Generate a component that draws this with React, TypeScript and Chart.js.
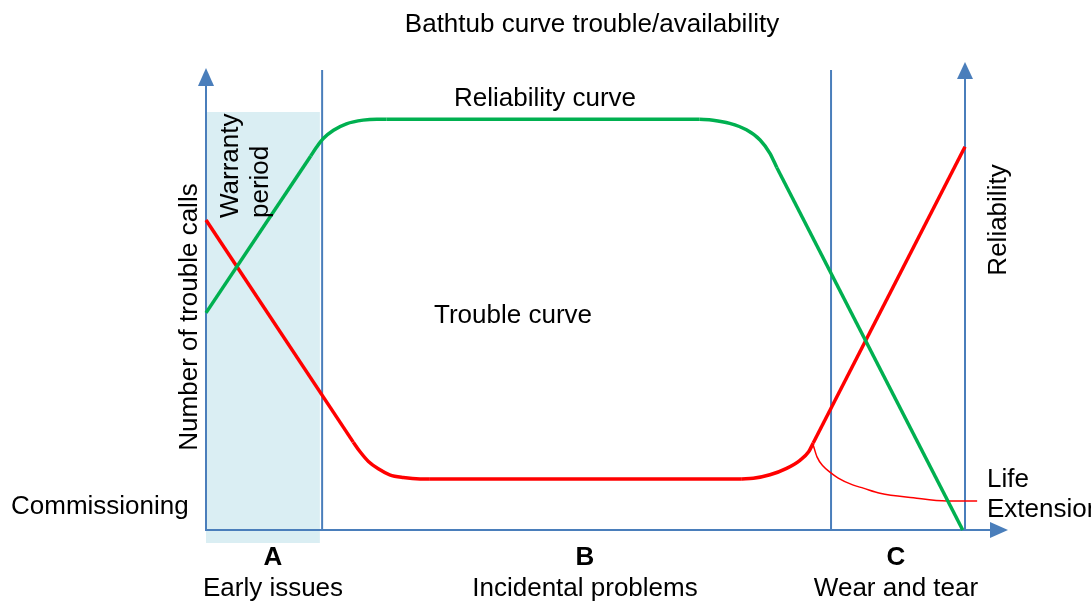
import React, { useEffect, useRef } from "react";
import { Chart, registerables } from "chart.js";

Chart.register(...registerables);

type P = { x: number; y: number };

// Time axis: 0 = commissioning, 100 = end of life. Value axis: 0..100 (relative).
const reliabilityEarly: P[] = [{ x: 0, y: 47.2 }, { x: 13.8, y: 81.3 }];
const reliabilityRiseBend: P[] = [
  { x: 13.8, y: 81.3 }, { x: 14.6, y: 83.3 }, { x: 15.45, y: 85.1 },
  { x: 16.8, y: 86.9 }, { x: 18.5, y: 88.3 }, { x: 20.7, y: 89.1 },
  { x: 22.5, y: 89.3 }, { x: 23.8, y: 89.3 },
];
const reliabilityPlateau: P[] = [{ x: 23.8, y: 89.3 }, { x: 65.0, y: 89.3 }];
const reliabilityFallBend: P[] = [
  { x: 65.0, y: 89.3 }, { x: 66.8, y: 89.1 }, { x: 69.0, y: 88.4 },
  { x: 71.2, y: 87.0 }, { x: 73.0, y: 84.8 }, { x: 74.3, y: 81.9 },
  { x: 75.2, y: 78.8 },
];
const reliabilityWearOut: P[] = [{ x: 75.2, y: 78.8 }, { x: 99.7, y: 0 }];

const troubleEarly: P[] = [{ x: 0, y: 67.4 }, { x: 19.4, y: 19.1 }];
const troubleFallBend: P[] = [
  { x: 19.4, y: 19.1 }, { x: 20.3, y: 17.0 }, { x: 21.4, y: 14.9 },
  { x: 22.7, y: 13.3 }, { x: 24.2, y: 12.0 }, { x: 26.0, y: 11.4 },
  { x: 28.2, y: 11.1 }, { x: 29.5, y: 11.1 },
];
const troublePlateau: P[] = [{ x: 29.5, y: 11.1 }, { x: 70.6, y: 11.1 }];
const troubleRiseBend: P[] = [
  { x: 70.6, y: 11.1 }, { x: 72.1, y: 11.25 }, { x: 74.3, y: 12.0 },
  { x: 76.5, y: 13.4 }, { x: 78.3, y: 15.2 }, { x: 79.4, y: 17.0 },
  { x: 80.0, y: 18.9 },
];
const troubleWearOut: P[] = [{ x: 80.0, y: 18.9 }, { x: 100, y: 83.3 }];
const lifeExtension: P[] = [
  { x: 80.0, y: 18.5 }, { x: 80.5, y: 15.9 }, { x: 81.3, y: 13.9 },
  { x: 82.2, y: 12.6 }, { x: 83.3, y: 11.3 }, { x: 85.2, y: 9.8 },
  { x: 86.6, y: 9.1 }, { x: 88.8, y: 8.0 }, { x: 93.2, y: 7.0 },
  { x: 97.6, y: 6.3 }, { x: 101.6, y: 6.3 },
];

// Phase boundaries (time axis)
const phaseBoundaries: number[] = [15.3, 82.35];
const warrantyEnd = 15.0;
const phaseLetters: string[] = ["A", "B", "C"];
const phaseNames: string[] = ["Early issues", "Incidental problems", "Wear and tear"];

const GREEN = "#00B050";
const RED = "#FF0000";
const BLUE = "#4A7EBB";
const SHADE = "#DAEEF3";
const FONT = '"Liberation Sans", Arial, sans-serif';

const decor = {
  id: "decor",
  beforeDatasetsDraw(chart: any) {
    const { ctx } = chart;
    const xs = chart.scales.x;
    const ys = chart.scales.y;
    const X = (v: number) => xs.getPixelForValue(v);
    const Y = (v: number) => ys.getPixelForValue(v);
    ctx.save();
    // warranty shading
    const top = 112;
    const bottom = 543;
    ctx.fillStyle = SHADE;
    ctx.fillRect(X(0), top, X(warrantyEnd) - X(0), bottom - top);

    ctx.strokeStyle = BLUE;
    ctx.fillStyle = BLUE;
    ctx.lineWidth = 2;
    // phase boundaries
    phaseBoundaries.forEach((b) => {
      ctx.beginPath();
      ctx.moveTo(X(b), Y(0));
      ctx.lineTo(X(b), Y(100));
      ctx.stroke();
    });
    // left axis
    const x0 = X(0);
    const y0 = Y(0);
    ctx.beginPath();
    ctx.moveTo(x0, y0);
    ctx.lineTo(x0, 84);
    ctx.stroke();
    ctx.beginPath();
    ctx.moveTo(x0, 68);
    ctx.lineTo(x0 - 8, 86);
    ctx.lineTo(x0 + 8, 86);
    ctx.closePath();
    ctx.fill();
    // right axis
    const x1 = X(100);
    ctx.beginPath();
    ctx.moveTo(x1, y0);
    ctx.lineTo(x1, 77);
    ctx.stroke();
    ctx.beginPath();
    ctx.moveTo(x1, 62);
    ctx.lineTo(x1 - 8, 79);
    ctx.lineTo(x1 + 8, 79);
    ctx.closePath();
    ctx.fill();
    // x axis
    ctx.beginPath();
    ctx.moveTo(x0 - 1, y0);
    ctx.lineTo(992, y0);
    ctx.stroke();
    ctx.beginPath();
    ctx.moveTo(1008, y0);
    ctx.lineTo(990, y0 - 8);
    ctx.lineTo(990, y0 + 8);
    ctx.closePath();
    ctx.fill();
    ctx.restore();
  },
  afterDatasetsDraw(chart: any) {
    const { ctx } = chart;
    ctx.save();
    ctx.fillStyle = "#000000";
    ctx.font = `26px ${FONT}`;
    ctx.textBaseline = "alphabetic";
    ctx.textAlign = "center";
    ctx.fillText("Bathtub curve trouble/availability", 592, 32);
    ctx.fillText("Reliability curve", 545, 106);
    ctx.fillText("Trouble curve", 513, 323);
    const centers = [273, 585, 896];
    ctx.font = `bold 26px ${FONT}`;
    phaseLetters.forEach((l, i) => ctx.fillText(l, centers[i], 565));
    ctx.font = `26px ${FONT}`;
    phaseNames.forEach((n, i) => ctx.fillText(n, centers[i], 596));
    ctx.textAlign = "left";
    ctx.fillText("Commissioning", 11, 514);
    ctx.fillText("Life", 987, 487);
    ctx.fillText("Extension", 987, 517);

    const rot = (t: string, bx: number, by: number, align: CanvasTextAlign) => {
      ctx.save();
      ctx.translate(bx, by);
      ctx.rotate(-Math.PI / 2);
      ctx.textAlign = align;
      ctx.fillText(t, 0, 0);
      ctx.restore();
    };
    rot("Number of trouble calls", 197, 317, "center");
    rot("Reliability", 1006, 220, "center");
    rot("Warranty", 238, 218, "left");
    rot("period", 268, 218, "left");
    ctx.restore();
  },
};

const seg = (data: P[], color: string, width: number, curved: boolean) => ({
  data,
  borderColor: color,
  backgroundColor: color,
  borderWidth: width,
  pointRadius: 0,
  fill: false,
  clip: false as any,
  tension: curved ? 0.4 : 0,
  cubicInterpolationMode: curved ? ("monotone" as const) : ("default" as const),
  borderCapStyle: "butt" as const,
  borderJoinStyle: "round" as const,
});

export default function App() {
  const ref = useRef<HTMLCanvasElement | null>(null);
  useEffect(() => {
    if (!ref.current) return;
    const chart = new Chart(ref.current, {
      type: "line",
      data: {
        datasets: [
          seg(reliabilityEarly, GREEN, 3.5, false),
          seg(reliabilityRiseBend, GREEN, 3.5, true),
          seg(reliabilityPlateau, GREEN, 3.5, false),
          seg(reliabilityFallBend, GREEN, 3.5, true),
          seg(reliabilityWearOut, GREEN, 3.5, false),
          seg(troubleEarly, RED, 3.5, false),
          seg(troubleFallBend, RED, 3.5, true),
          seg(troublePlateau, RED, 3.5, false),
          seg(troubleRiseBend, RED, 3.5, true),
          seg(troubleWearOut, RED, 3.5, false),
          seg(lifeExtension, RED, 1.5, true),
        ] as any,
      },
      options: {
        responsive: false,
        animation: false,
        layout: { padding: { left: 206, right: 126, top: 70, bottom: 73 } },
        scales: {
          x: { type: "linear", min: 0, max: 100, display: false },
          y: { type: "linear", min: 0, max: 100, display: false },
        },
        plugins: { legend: { display: false }, tooltip: { enabled: false }, title: { display: false } },
        events: [],
      },
      plugins: [decor],
    });
    return () => chart.destroy();
  }, []);
  return (
    <div style={{ position: "absolute", left: 0, top: 0, width: 1091, height: 603, background: "#fff" }}>
      <canvas ref={ref} width={1091} height={603} style={{ display: "block" }} />
    </div>
  );
}
